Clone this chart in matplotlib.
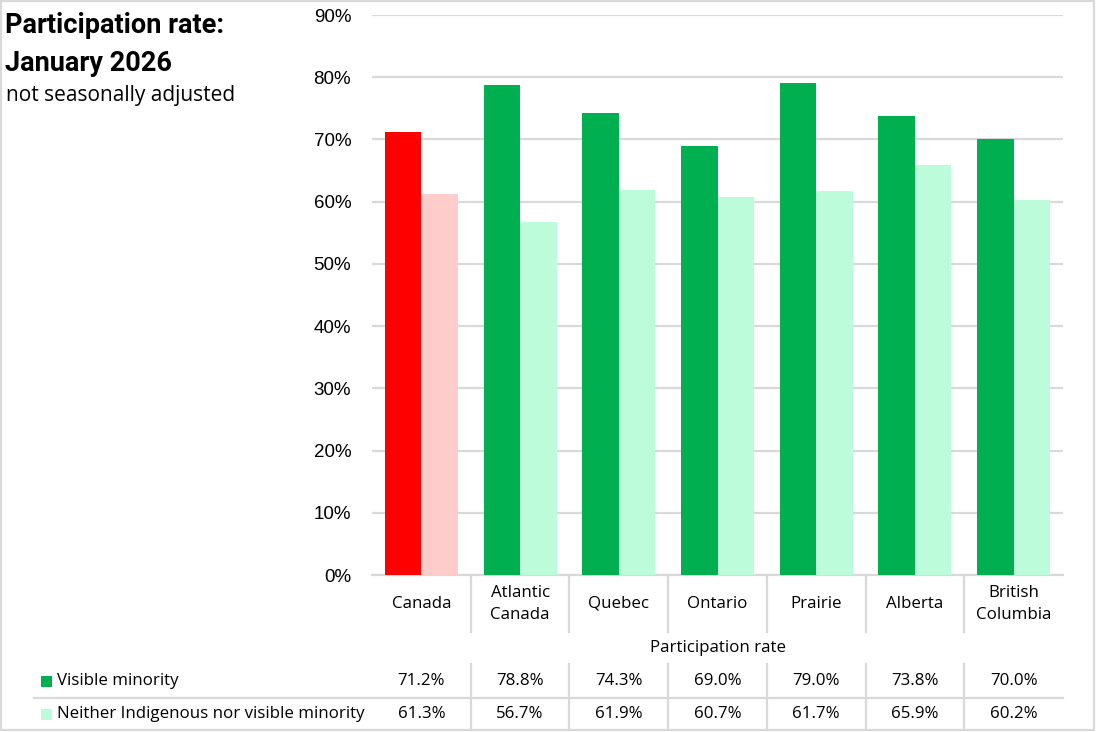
import matplotlib
matplotlib.use('Agg')
import matplotlib.pyplot as plt
import matplotlib.transforms as mtransforms
from matplotlib.lines import Line2D
from matplotlib.patches import Rectangle
from matplotlib.ticker import PercentFormatter
import numpy as np

# Data
regions = ['Canada', 'Atlantic\nCanada', 'Quebec', 'Ontario', 'Prairie', 'Alberta', 'British\nColumbia']
series_names = ['Visible minority', 'Neither Indigenous nor visible minority']
visible_minority = [71.2, 78.8, 74.3, 69.0, 79.0, 73.8, 70.0]
neither = [61.3, 56.7, 61.9, 60.7, 61.7, 65.9, 60.2]
y_ticks = [0, 10, 20, 30, 40, 50, 60, 70, 80, 90]

W, H = 1096, 732
GRID = '#d9d9d9'
TABLE_FONT = 'Open Sans'
TS = 12.2  # table text size

def fy(px):
    # pixel row -> figure fraction
    return 1 - px / H

fig = plt.figure(figsize=(W / 100, H / 100), dpi=100)
ax = fig.add_axes([372 / W, fy(575), (1063 - 372) / W, (575 - 15) / H])

x = np.arange(len(regions))
width = 0.37
dark = ['#ff0000'] + ['#00b050'] * (len(regions) - 1)
light = ['#ffcccc'] + ['#bdfcdb'] * (len(regions) - 1)

ax.bar(x - width / 2, visible_minority, width, color=dark, zorder=3)
ax.bar(x + width / 2, neither, width, color=light, zorder=3)

ax.set_xlim(-0.5, len(regions) - 0.5)
ax.set_ylim(0, 90)
ax.set_yticks(y_ticks)
ax.yaxis.set_major_formatter(PercentFormatter(decimals=0))
ax.tick_params(axis='y', length=0, pad=15, labelsize=13.5, labelcolor='#000000')
for lab in ax.get_yticklabels():
    lab.set_family('Liberation Sans')
ax.set_xticks([])
ax.yaxis.grid(True, color=GRID, linewidth=1.6, zorder=0)
for s in ax.spines.values():
    s.set_visible(False)
ax.axhline(0, color=GRID, linewidth=1.6, zorder=2, clip_on=False)

# Title block
fig.text(5 / W, fy(33), 'Participation rate:', fontsize=19.5, fontweight='bold',
         family='Roboto', va='baseline', ha='left')
fig.text(5 / W, fy(71), 'January 2026', fontsize=19.5, fontweight='bold',
         family='Roboto', va='baseline', ha='left')
fig.text(6 / W, fy(101), 'not seasonally adjusted', fontsize=15,
         family=TABLE_FONT, va='baseline', ha='left')

# Data table under the axis
tr = mtransforms.blended_transform_factory(ax.transData, fig.transFigure)
for i, name in enumerate(regions):
    fig.text(i, fy(604), name, transform=tr, ha='center', va='center',
             fontsize=TS, family=TABLE_FONT, linespacing=1.45)
    fig.text(i, fy(681), f'{visible_minority[i]:.1f}%', transform=tr, ha='center',
             va='center', fontsize=TS, family=TABLE_FONT)
    fig.text(i, fy(714), f'{neither[i]:.1f}%', transform=tr, ha='center',
             va='center', fontsize=TS, family=TABLE_FONT)

fig.text(np.mean(ax.get_xlim()), fy(648), 'Participation rate', transform=tr,
         ha='center', va='center', fontsize=TS, family=TABLE_FONT)

# separators between categories
for b in np.arange(0.5, len(regions) - 0.5, 1.0):
    for y0, y1 in [(576, 632), (664, 730)]:
        fig.add_artist(Line2D([b, b], [fy(y0), fy(y1)], transform=tr,
                              color=GRID, linewidth=1.6))
# row separator
fig.add_artist(Line2D([34 / W, 1063 / W], [fy(698), fy(698)],
                      transform=fig.transFigure, color=GRID, linewidth=1.6))

# legend keys and row labels
for name, col, ypx in [(series_names[0], dark[1], 681), (series_names[1], light[1], 714)]:
    fig.add_artist(Rectangle((41 / W, fy(ypx + 5.5)), 11 / W, 11 / H,
                             transform=fig.transFigure, color=col, linewidth=0))
    fig.text(57 / W, fy(ypx), name, ha='left', va='center', fontsize=TS,
             family=TABLE_FONT)

# outer frame
fig.add_artist(Rectangle((1 / W, fy(730)), (1094 - 1) / W, (730 - 1) / H,
                         transform=fig.transFigure, fill=False,
                         edgecolor=GRID, linewidth=1.6))

fig.savefig('out.png', dpi=100)
